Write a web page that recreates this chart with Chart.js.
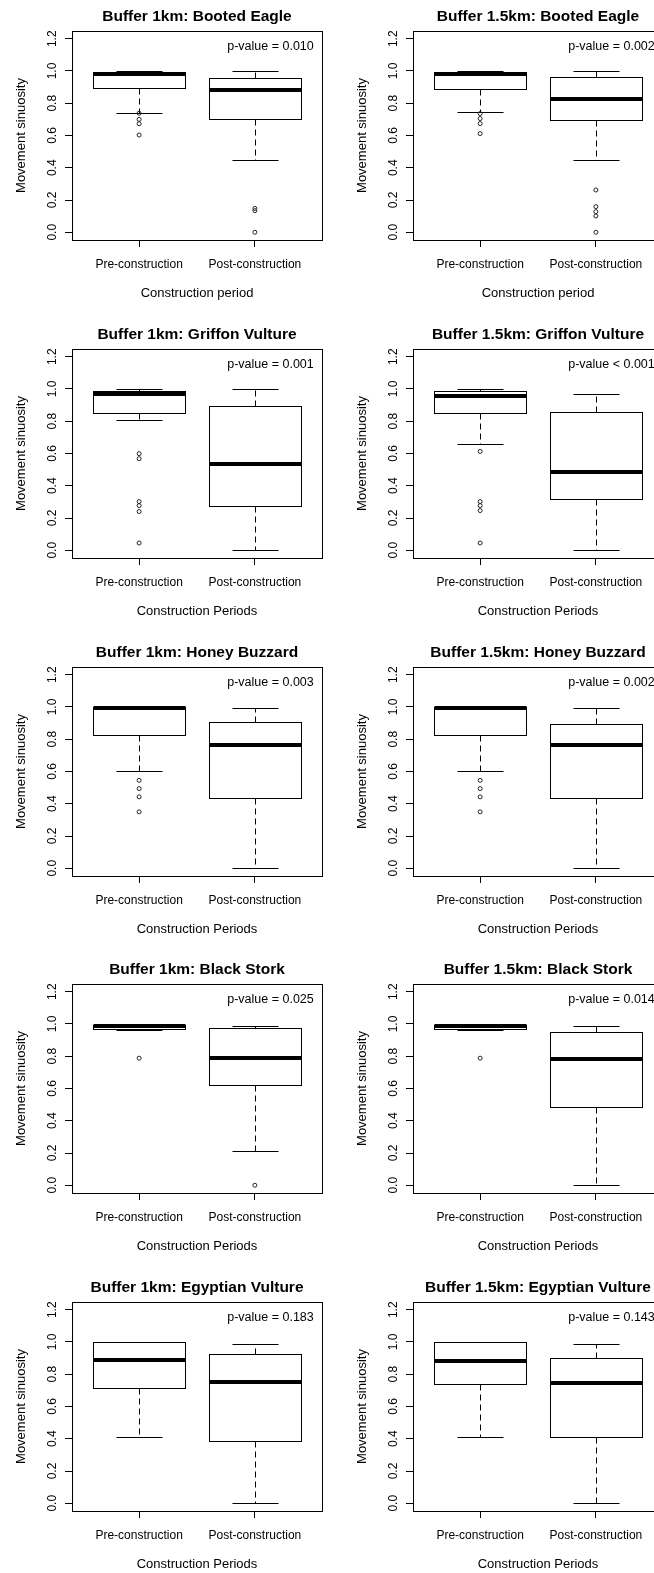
<!DOCTYPE html>
<html lang="en">
<head>
  <meta charset="UTF-8">
  <title>Movement sinuosity by construction period</title>
  <script src="https://cdn.jsdelivr.net/npm/chart.js"></script>
  <style>
    html, body {
      margin: 0;
      padding: 0;
      background: #fff;
      width: 654px;
      height: 1573px;
      overflow: hidden;
    }
    .panel {
      position: absolute;
    }
  </style>
</head>
<body>
<div id="grid"></div>

<script>
  // Panels in row order: left = 1km buffer, right = 1.5km buffer
  const panelTitles = [
    'Buffer 1km: Booted Eagle', 'Buffer 1.5km: Booted Eagle',
    'Buffer 1km: Griffon Vulture', 'Buffer 1.5km: Griffon Vulture',
    'Buffer 1km: Honey Buzzard', 'Buffer 1.5km: Honey Buzzard',
    'Buffer 1km: Black Stork', 'Buffer 1.5km: Black Stork',
    'Buffer 1km: Egyptian Vulture', 'Buffer 1.5km: Egyptian Vulture'
  ];
  const pValueLabels = [
    'p-value = 0.010', 'p-value = 0.002',
    'p-value = 0.001', 'p-value < 0.001',
    'p-value = 0.003', 'p-value = 0.002',
    'p-value = 0.025', 'p-value = 0.014',
    'p-value = 0.183', 'p-value = 0.143'
  ];
  const xTitles = [
    'Construction period', 'Construction period',
    'Construction Periods', 'Construction Periods',
    'Construction Periods', 'Construction Periods',
    'Construction Periods', 'Construction Periods',
    'Construction Periods', 'Construction Periods'
  ];
  const periods = ['Pre-construction', 'Post-construction'];
  const yTicks = [0, 0.2, 0.4, 0.6, 0.8, 1.0, 1.2];

  // [lower whisker, Q1, median, Q3, upper whisker]
  const preStats = [
    [0.742, 0.894, 0.983, 0.993, 1.0],
    [0.746, 0.891, 0.983, 0.994, 1.0],
    [0.808, 0.849, 0.968, 0.989, 1.0],
    [0.660, 0.849, 0.958, 0.989, 1.0],
    [0.605, 0.827, 0.992, 0.998, 1.0],
    [0.605, 0.827, 0.992, 0.998, 1.0],
    [0.965, 0.969, 0.990, 0.996, 1.0],
    [0.965, 0.969, 0.990, 0.996, 1.0],
    [0.410, 0.715, 0.891, 1.0, 1.0],
    [0.410, 0.738, 0.882, 1.0, 1.0]
  ];
  const postStats = [
    [0.447, 0.705, 0.885, 0.959, 1.0],
    [0.447, 0.699, 0.827, 0.963, 1.0],
    [0.0, 0.275, 0.533, 0.892, 1.0],
    [0.0, 0.320, 0.486, 0.855, 0.968],
    [0.0, 0.436, 0.762, 0.910, 0.992],
    [0.0, 0.436, 0.766, 0.895, 0.992],
    [0.210, 0.619, 0.788, 0.975, 0.990],
    [0.0, 0.485, 0.781, 0.948, 0.990],
    [0.0, 0.386, 0.753, 0.928, 0.990],
    [0.0, 0.410, 0.746, 0.901, 0.990]
  ];
  const preOutliers = [
    [0.738, 0.700, 0.673, 0.603],
    [0.736, 0.705, 0.674, 0.612],
    [0.599, 0.568, 0.302, 0.277, 0.240, 0.045],
    [0.613, 0.302, 0.277, 0.246, 0.045],
    [0.545, 0.494, 0.443, 0.350],
    [0.545, 0.494, 0.443, 0.350],
    [0.788],
    [0.788],
    [],
    []
  ];
  const postOutliers = [
    [0.148, 0.134, 0.0],
    [0.262, 0.159, 0.128, 0.101, 0.0],
    [],
    [],
    [],
    [],
    [0.0],
    [],
    [],
    []
  ];

  const FONT = '"Liberation Sans", Arial, sans-serif';
  const PANEL_W = 341;
  const PANEL_H = 318;
  const rowTops = [0, 318, 636, 953, 1271];

  // Draws whiskers, boxes and medians on the chart's scales, plus the R-style frame and text
  const boxplotPlugin = {
    id: 'boxplot',
    beforeDatasetsDraw(chart, args, opts) {
      const { ctx, scales: { x, y } } = chart;
      const px = v => Math.round(x.getPixelForValue(v)) + 0.5;
      const py = v => Math.round(y.getPixelForValue(v)) + 0.5;
      const line = (x1, y1, x2, y2) => {
        ctx.beginPath();
        ctx.moveTo(x1, y1);
        ctx.lineTo(x2, y2);
        ctx.stroke();
      };
      [opts.pre, opts.post].forEach((s, i) => {
        const pos = i + 1;
        const [lo, q1, med, q3, hi] = s;
        const xc = px(pos);
        ctx.save();
        ctx.strokeStyle = '#000';
        ctx.lineWidth = 1;
        ctx.setLineDash([6, 4]);
        line(xc, py(q3), xc, py(hi));
        line(xc, py(q1), xc, py(lo));
        ctx.setLineDash([]);
        line(px(pos - 0.2), py(hi), px(pos + 0.2), py(hi));
        line(px(pos - 0.2), py(lo), px(pos + 0.2), py(lo));
        const xl = px(pos - 0.4), xr = px(pos + 0.4);
        ctx.fillStyle = '#fff';
        ctx.fillRect(xl, py(q3), xr - xl, py(q1) - py(q3));
        ctx.strokeRect(xl, py(q3), xr - xl, py(q1) - py(q3));
        // median bar, thicker as in base R
        ctx.lineWidth = 4;
        const ym = Math.round(y.getPixelForValue(med));
        line(xl, ym, xr, ym);
        ctx.restore();
      });
    },
    afterDraw(chart, args, opts) {
      const { ctx, chartArea: a, scales: { x, y } } = chart;
      ctx.save();
      ctx.strokeStyle = '#000';
      ctx.lineWidth = 1;
      ctx.strokeRect(Math.round(a.left) + 0.5, Math.round(a.top) + 0.5,
        Math.round(a.right - a.left), Math.round(a.bottom - a.top));

      ctx.fillStyle = '#000';
      // rotated y tick labels
      ctx.font = '12px ' + FONT;
      ctx.textAlign = 'center';
      ctx.textBaseline = 'alphabetic';
      yTicks.forEach(v => {
        ctx.save();
        ctx.translate(56, y.getPixelForValue(v));
        ctx.rotate(-Math.PI / 2);
        ctx.fillText(v.toFixed(1), 0, 0);
        ctx.restore();
      });

      const cx = (a.left + a.right) / 2;
      // y axis title
      ctx.font = '13px ' + FONT;
      ctx.save();
      ctx.translate(25, (a.top + a.bottom) / 2);
      ctx.rotate(-Math.PI / 2);
      ctx.fillText('Movement sinuosity', 0, 0);
      ctx.restore();

      // x axis title
      ctx.fillText(opts.xTitle, cx, 297);

      // main title
      ctx.font = 'bold 15.5px ' + FONT;
      ctx.fillText(opts.title, cx, 21);

      // test result
      ctx.font = '12.5px ' + FONT;
      ctx.textBaseline = 'middle';
      ctx.fillText(opts.pLabel, x.getPixelForValue(2.135), y.getPixelForValue(1.15));
      ctx.restore();
    }
  };

  const grid = document.getElementById('grid');

  panelTitles.forEach((title, i) => {
    const canvas = document.createElement('canvas');
    canvas.className = 'panel';
    canvas.width = PANEL_W;
    canvas.height = PANEL_H;
    canvas.style.left = (i % 2) * PANEL_W + 'px';
    canvas.style.top = rowTops[Math.floor(i / 2)] + 'px';
    grid.appendChild(canvas);

    const points = preOutliers[i].map(v => ({ x: 1, y: v }))
      .concat(postOutliers[i].map(v => ({ x: 2, y: v })));

    new Chart(canvas, {
      type: 'scatter',
      data: {
        datasets: [{
          data: points,
          pointStyle: 'circle',
          radius: 2,
          hoverRadius: 2,
          borderWidth: 1,
          borderColor: '#222',
          backgroundColor: 'rgba(0,0,0,0)'
        }]
      },
      options: {
        responsive: false,
        animation: false,
        events: [],
        layout: { padding: { top: 31, right: 19, left: 0, bottom: 0 } },
        plugins: {
          legend: { display: false },
          tooltip: { enabled: false },
          boxplot: {
            pre: preStats[i],
            post: postStats[i],
            title: title,
            pLabel: pValueLabels[i],
            xTitle: xTitles[i]
          }
        },
        scales: {
          x: {
            type: 'linear',
            min: 0.42,
            max: 2.58,
            afterBuildTicks: s => { s.ticks = periods.map((_, k) => ({ value: k + 1 })); },
            afterFit: s => { s.height = 78; },
            grid: { drawOnChartArea: false, tickLength: 7, color: '#000', lineWidth: 1 },
            border: { display: false },
            ticks: {
              callback: v => periods[v - 1],
              font: { family: FONT, size: 12 },
              color: '#000',
              padding: 10,
              autoSkip: false,
              maxRotation: 0
            }
          },
          y: {
            type: 'linear',
            min: -0.048,
            max: 1.248,
            afterBuildTicks: s => { s.ticks = yTicks.map(v => ({ value: v })); },
            afterFit: s => { s.width = 72; },
            grid: { drawOnChartArea: false, tickLength: 7, color: '#000', lineWidth: 1 },
            border: { display: false },
            ticks: { display: false }
          }
        }
      },
      plugins: [boxplotPlugin]
    });
  });
</script>
</body>
</html>
